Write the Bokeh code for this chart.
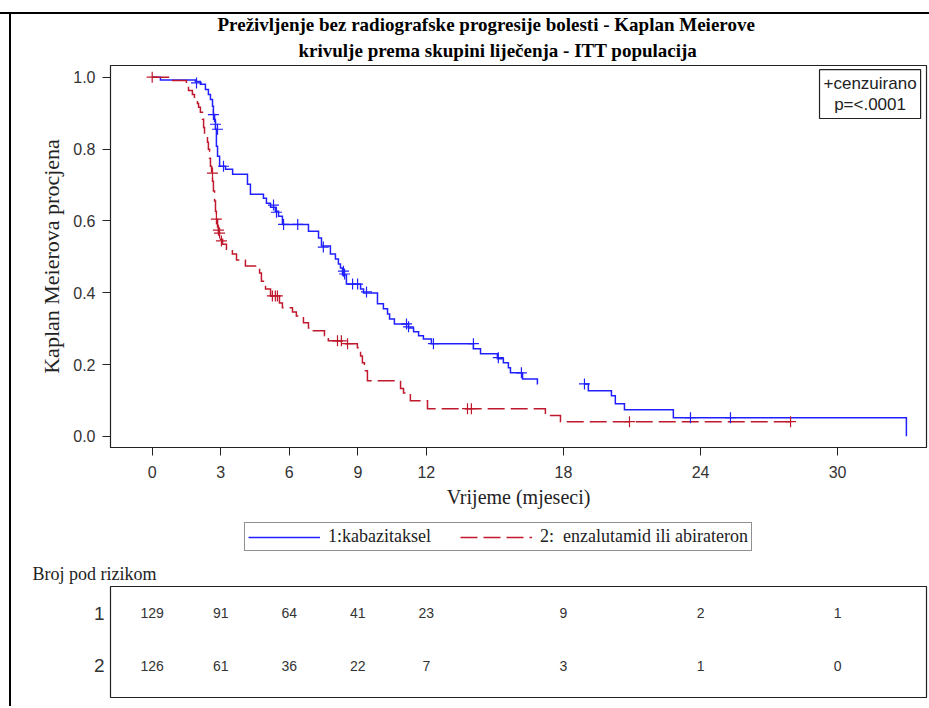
from bokeh.plotting import figure
from bokeh.models import (Range1d, FixedTicker, PrintfTickFormatter, Legend, LegendItem,
                          Label, Spacer, ColumnDataSource, Title)
from bokeh.layouts import column, row
from bokeh.embed import file_html
from bokeh.resources import INLINE
from bokeh.core.properties import value

# ---------------- data ----------------
NAN = float("nan")
# group 1: kabazitaksel (time of each drop in months, survival after the drop)
blue_times = [0.36, 1.89, 2.11, 2.33, 2.46, 2.55, 2.64, 2.68, 2.73, 2.77, 2.81, 2.86, 2.95,
              3.21, 3.52, 4.17, 4.30, 4.87, 5.00, 5.18, 5.39, 5.53, 5.70, 6.84, 7.28, 7.41,
              7.80, 8.02, 8.15, 8.24, 8.33, 8.50, 9.12, 9.25, 9.86, 10.12, 10.30, 10.39,
              10.60, 11.22, 11.44, 11.66, 11.87, 12.22, 14.06, 14.37, 15.11, 15.37, 15.59,
              15.68, 16.21, 16.86, 16.87, 18.92, 19.09, 20.10, 20.27, 20.67, 22.81, 33.01]
blue_surv = [0.992, 0.988, 0.980, 0.966, 0.952, 0.938, 0.919, 0.896, 0.877, 0.855, 0.808,
             0.780, 0.752, 0.744, 0.730, 0.702, 0.674, 0.663, 0.649, 0.638, 0.627, 0.613,
             0.590, 0.571, 0.552, 0.530, 0.508, 0.494, 0.480, 0.469, 0.449, 0.424, 0.410,
             0.399, 0.369, 0.355, 0.341, 0.327, 0.313, 0.302, 0.291, 0.280, 0.271, 0.258,
             0.244, 0.230, 0.216, 0.205, 0.191, 0.177, 0.160, 0.146, NAN, 0.146, 0.127,
             0.113, 0.091, 0.074, 0.052, 0.0]
blue_end = 33.01
blue_cens_t = [1.94, 2.68, 2.77, 2.86, 3.12, 5.31, 5.44, 5.75, 6.37, 7.49, 8.37, 8.42, 8.77,
               8.99, 9.38, 11.13, 11.22, 12.31, 14.06, 15.15, 16.16, 18.92, 23.56, 25.31]
blue_cens_s = [0.984, 0.896, 0.869, 0.855, 0.752, 0.644, 0.624, 0.590, 0.590, 0.527, 0.460,
               0.452, 0.424, 0.424, 0.402, 0.313, 0.305, 0.258, 0.258, 0.219, 0.177, 0.146,
               0.052, 0.052]

# group 2: enzalutamid ili abirateron
red_times = [0.77, 1.50, 1.59, 1.76, 1.85, 1.98, 2.03, 2.11, 2.20, 2.25, 2.29, 2.42, 2.46,
             2.51, 2.55, 2.60, 2.64, 2.68, 2.73, 2.77, 2.81, 2.86, 2.90, 2.99, 3.08, 3.25,
             3.51, 3.69, 4.08, 4.70, 4.78, 4.96, 5.18, 5.57, 5.70, 6.14, 6.31, 6.62, 6.84,
             7.02, 7.54, 7.71, 8.47, 8.98, 9.12, 9.20, 9.29, 9.42, 10.87, 11.00, 11.30,
             12.05, 17.21, 17.87]
red_surv = [0.991, 0.977, 0.963, 0.952, 0.941, 0.927, 0.916, 0.902, 0.883, 0.860, 0.835,
            0.819, 0.799, 0.774, 0.752, 0.733, 0.710, 0.683, 0.655, 0.627, 0.605, 0.583,
            0.566, 0.549, 0.535, 0.521, 0.508, 0.491, 0.474, 0.455, 0.432, 0.410, 0.391,
            0.371, 0.358, 0.346, 0.335, 0.316, 0.302, 0.294, 0.280, 0.266, 0.258, 0.247,
            0.224, 0.205, 0.183, 0.155, 0.133, 0.121, 0.099, 0.077, 0.058, 0.041]
red_end = 27.94
red_cens_t = [0.0, 2.64, 2.81, 2.90, 2.95, 3.03, 5.26, 5.39, 5.48, 8.11, 8.28, 8.55, 13.80,
              13.97, 20.89, 27.94]
red_cens_s = [1.0, 0.733, 0.605, 0.574, 0.566, 0.544, 0.391, 0.391, 0.391, 0.266, 0.266,
              0.258, 0.077, 0.077, 0.041, 0.041]

x_ticks = [0, 3, 6, 9, 12, 18, 24, 30]
y_ticks = [0.0, 0.2, 0.4, 0.6, 0.8, 1.0]
risk_times = [0, 3, 6, 9, 12, 18, 24, 30]
risk_1 = [129, 91, 64, 41, 23, 9, 2, 1]
risk_2 = [126, 61, 36, 22, 7, 3, 1, 0]
group_rows = [1, 2]

label_1 = "1:kabazitaksel"
label_2 = "2:  enzalutamid ili abirateron"
title_line_1 = "Preživljenje bez radiografske progresije bolesti - Kaplan Meierove"
title_line_2 = "krivulje prema skupini liječenja - ITT populacija"

BLUE = "#2020ff"
RED = "#c0182c"
SERIF = "Liberation Serif"
SANS = "Liberation Sans"
INK = "#222222"


def staircase(times, surv, end):
    xs, ys = [0.0], [1.0]
    prev = 1.0
    for t, s in zip(times, surv):
        xs += [t, t]
        ys += [prev, s]
        prev = s
    xs.append(end)
    ys.append(prev)
    return xs, ys


bx, by = staircase(blue_times, blue_surv, blue_end)
rx, ry = staircase(red_times, red_surv, red_end)

# ---------------- main KM figure ----------------
x_range = Range1d(-1.825, 33.89)
p = figure(width=918, height=506, x_range=x_range, y_range=Range1d(-0.031, 1.0325),
           output_backend="svg", toolbar_location=None,
           min_border_left=99, min_border_right=3, min_border_top=50, min_border_bottom=73)
p.grid.visible = False
p.outline_line_color = INK
p.outline_line_width = 1.2

p.title.text = title_line_1
p.title.align = "left"
p.title.offset = 107
p.title.text_font = SERIF
p.title.text_font_size = "19px"
p.title.text_font_style = "bold"
p.title.text_color = "black"
p.title.text_line_height = 1.0
p.title.standoff = -5
p.add_layout(Title(text=title_line_2, align="left", offset=188, text_font=SERIF,
                   text_font_size="19px", text_font_style="bold", text_color="black",
                   text_line_height=1.0, standoff=10), "above")

blue_line = p.line(bx, by, line_color=BLUE, line_width=1.5, line_join="miter")
red_line = p.line(rx, ry, line_color=RED, line_width=1.5, line_dash="17 6", line_join="miter")
p.scatter(blue_cens_t, blue_cens_s, marker="cross", size=11, line_color=BLUE, line_width=1.2)
p.scatter(red_cens_t, red_cens_s, marker="cross", size=11, line_color=RED, line_width=1.2)

for ax in (p.xaxis[0], p.yaxis[0]):
    ax.major_tick_out = 8
    ax.major_tick_in = 0
    ax.minor_tick_out = 0
    ax.minor_tick_in = 0
    ax.axis_line_color = INK
    ax.major_tick_line_color = INK
    ax.major_label_text_font = SANS
    ax.major_label_text_font_size = "16px"
    ax.major_label_text_color = "#333333"
    ax.axis_label_text_font = SERIF
    ax.axis_label_text_font_style = "normal"
    ax.axis_label_text_color = INK

p.xaxis.ticker = FixedTicker(ticks=x_ticks)
p.xaxis.axis_label = "Vrijeme (mjeseci)"
p.xaxis.axis_label_text_font_size = "20px"
p.xaxis.major_label_standoff = 10
p.xaxis.axis_label_standoff = 5
p.yaxis.ticker = FixedTicker(ticks=y_ticks)
p.yaxis.formatter = PrintfTickFormatter(format="%.1f")
p.yaxis.axis_label = "Kaplan Meierova procjena"
p.yaxis.axis_label_text_font_size = "22px"
p.yaxis.major_label_standoff = 7
p.yaxis.axis_label_standoff = 6

p.add_layout(Label(x=31.42, y=1.021, text="+cenzuirano\np=<.0001", text_align="center",
                   text_baseline="top", text_font=SANS, text_font_size="17px",
                   text_line_height=1.15, text_color=INK,
                   border_line_color=INK, border_line_width=1.2, padding=4,
                   background_fill_color="white"))

# ---------------- legend strip (key lines use the curves, kept out of view) ----------------
p3 = figure(width=918, height=36, x_range=Range1d(0, 1), y_range=Range1d(5, 6),
            output_backend="svg", toolbar_location=None, x_axis_location=None,
            y_axis_location=None, min_border=0, min_border_left=0, min_border_right=0,
            min_border_top=0, min_border_bottom=0, outline_line_color=None)
p3.grid.visible = False
key_blue = p3.line(bx, by, line_color=BLUE, line_width=1.5)
key_red = p3.line(rx, ry, line_color=RED, line_width=1.5, line_dash="17 6")
legend = Legend(items=[LegendItem(label=label_1, renderers=[key_blue]),
                       LegendItem(label=label_2, renderers=[key_red])],
                orientation="horizontal", location=(134, 5),
                glyph_width=72, glyph_height=16, label_standoff=8, spacing=20,
                padding=3, margin=0, label_height=16, label_width=112,
                label_text_font=SERIF, label_text_font_size="18px",
                label_text_color=INK,
                border_line_color=INK, border_line_width=1.2)
p3.add_layout(legend)

# ---------------- number at risk table ----------------
p2 = figure(width=918, height=150, x_range=x_range, y_range=Range1d(2.615, 0.481),
            output_backend="svg", toolbar_location=None, x_axis_location=None,
            min_border_left=99, min_border_right=3, min_border_top=30, min_border_bottom=9,
            title="Broj pod rizikom")
p2.grid.visible = False
p2.outline_line_color = INK
p2.outline_line_width = 1.2
p2.title.align = "left"
p2.title.offset = -78
p2.title.text_font = SERIF
p2.title.text_font_size = "18px"
p2.title.text_font_style = "normal"
p2.title.text_color = INK
p2.title.standoff = 5

p2.yaxis.ticker = FixedTicker(ticks=group_rows)
p2.yaxis.axis_line_color = None
p2.yaxis.major_tick_line_color = None
p2.yaxis.minor_tick_line_color = None
p2.yaxis.major_tick_out = 0
p2.yaxis.minor_tick_out = 0
p2.yaxis.major_label_standoff = 6
p2.yaxis.major_label_text_font = SANS
p2.yaxis.major_label_text_font_size = "19px"
p2.yaxis.major_label_text_color = "#333333"

src = ColumnDataSource(dict(
    x=risk_times + risk_times,
    y=[group_rows[0]] * len(risk_1) + [group_rows[1]] * len(risk_2),
    t=[str(v) for v in risk_1] + [str(v) for v in risk_2]))
p2.text(x="x", y="y", text="t", source=src, text_align="center", text_baseline="middle",
        text_font=value(SANS), text_font_size="14px", text_color="#333333")

# ---------------- frame lines and layout ----------------
top_line = Spacer(width=929, height=2, styles={"background-color": "black"})
left_line = Spacer(width=2, height=692, styles={"background-color": "black"})
layout = column(Spacer(width=929, height=12), top_line,
                row(Spacer(width=9, height=692), left_line, column(p, p3, p2)))

open("out.html", "w").write(file_html(layout, INLINE))
